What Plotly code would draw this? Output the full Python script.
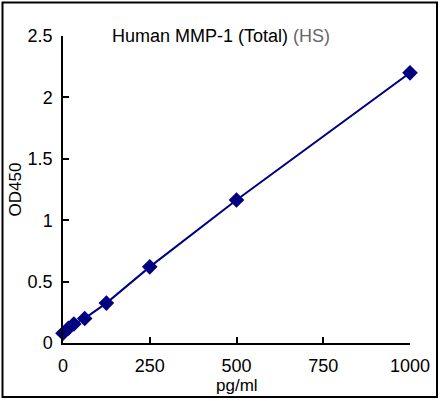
import plotly.graph_objects as go

conc = [0, 15.6, 31.25, 62.5, 125, 250, 500, 1000]
od450 = [0.08, 0.12, 0.155, 0.2, 0.325, 0.62, 1.165, 2.2]
x_ticks = [0, 250, 500, 750, 1000]
y_ticks = [0, 0.5, 1, 1.5, 2, 2.5]
y_tick_labels = ["0", "0.5", "1", "1.5", "2", "2.5"]

navy = "#000080"
font = "Liberation Sans, Arial, sans-serif"

fig = go.Figure()
fig.add_trace(go.Scatter(
    x=conc, y=od450, mode="lines+markers",
    line=dict(color=navy, width=2),
    marker=dict(symbol="diamond", size=12, color=navy),
    cliponaxis=False, showlegend=False,
))

L, R, T, B = 63, 31, 36, 58
W, H = 441, 401
pw, ph = W - L - R, H - T - B

def px_x(p):
    return (p - L) / pw

def px_y(p):
    return (H - B - p) / ph

fig.update_layout(
    width=W, height=H,
    margin=dict(l=L, r=R, t=T, b=B),
    paper_bgcolor="white", plot_bgcolor="white",
    font=dict(family=font, size=18, color="black"),
    xaxis=dict(
        range=[0, 1000], tickvals=x_ticks, ticks="inside", ticklen=6,
        tickcolor="black", tickwidth=1.5, showline=True, linecolor="black",
        linewidth=1.5, showgrid=False, zeroline=False, ticklabelstandoff=6,
    ),
    yaxis=dict(
        range=[0, 2.5], tickvals=y_ticks, ticktext=y_tick_labels,
        ticks="inside", ticklen=6, tickcolor="black", tickwidth=1.5,
        showline=True, linecolor="black", linewidth=1.5, showgrid=False,
        zeroline=False, ticklabelstandoff=5,
        title=dict(text="OD450", font=dict(size=17), standoff=2),
    ),
    annotations=[
        dict(
            text="Human MMP-1 (Total) <span style='color:#666666'>(HS)</span>",
            xref="paper", yref="paper", x=px_x(221), y=px_y(36),
            xanchor="center", yanchor="middle", showarrow=False,
            font=dict(size=18, color="black"),
        ),
        dict(
            text="pg/ml",
            xref="paper", yref="paper", x=0.5, y=px_y(385),
            xanchor="center", yanchor="middle", showarrow=False,
            font=dict(size=17, color="black"),
        ),
    ],
    shapes=[dict(
        type="rect", xref="paper", yref="paper",
        x0=px_x(2.5), x1=px_x(437), y0=px_y(397), y1=px_y(2.5),
        line=dict(color="black", width=2), fillcolor="rgba(0,0,0,0)",
    )],
)

fig.write_html(
    "out.html",
    config={"displayModeBar": False},
    post_script="document.body.style.margin='0';document.body.style.overflow='hidden';",
)
